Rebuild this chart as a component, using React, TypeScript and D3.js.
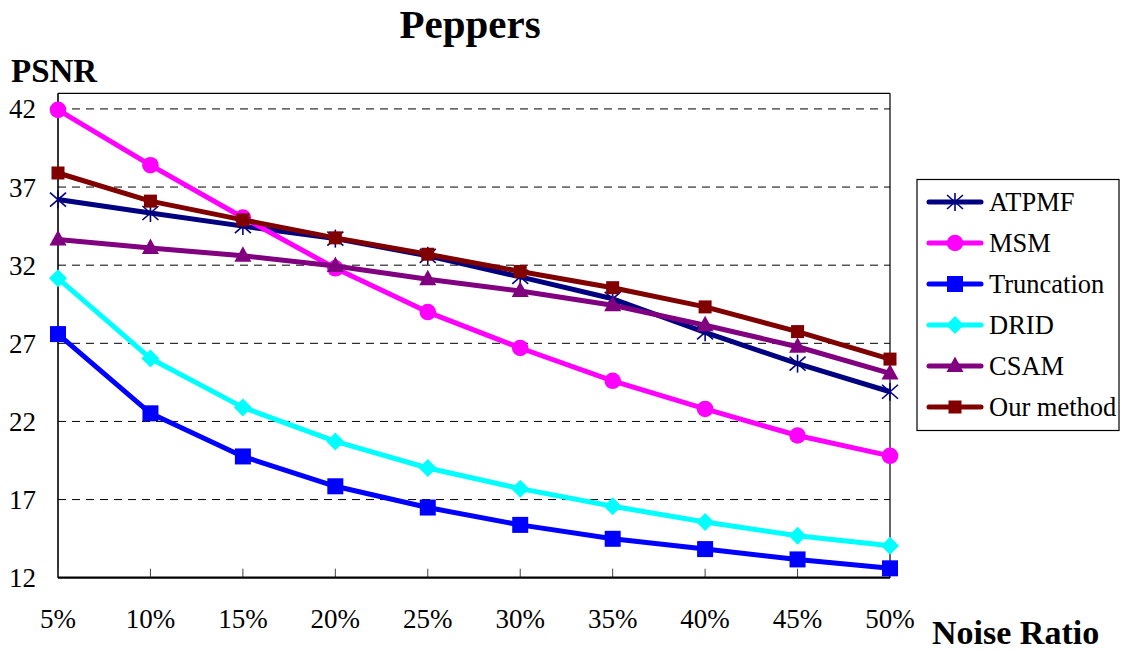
import React from "react";
import * as d3 from "d3";

const categories = ["5%", "10%", "15%", "20%", "25%", "30%", "35%", "40%", "45%", "50%"];
const yTicks = [12, 17, 22, 27, 32, 37, 42];

const atpmf = [36.2, 35.34, 34.5, 33.7, 32.6, 31.25, 29.85, 27.7, 25.7, 23.9];
const msm = [41.94, 38.4, 35.05, 31.8, 29.0, 26.7, 24.6, 22.8, 21.1, 19.8];
const truncation = [27.59, 22.52, 19.76, 17.85, 16.49, 15.38, 14.49, 13.83, 13.17, 12.6];
const drid = [31.16, 26.03, 22.9, 20.72, 19.02, 17.7, 16.57, 15.57, 14.68, 14.04];
const csam = [33.65, 33.1, 32.6, 31.95, 31.1, 30.35, 29.44, 28.16, 26.78, 25.07];
const ourMethod = [37.9, 36.1, 34.9, 33.75, 32.7, 31.6, 30.56, 29.33, 27.75, 25.99];

const series = [
  { name: "ATPMF", values: atpmf, color: "#000080", marker: "star" },
  { name: "MSM", values: msm, color: "#ff00ff", marker: "circle" },
  { name: "Truncation", values: truncation, color: "#0000ff", marker: "bigSquare" },
  { name: "DRID", values: drid, color: "#00ffff", marker: "diamond" },
  { name: "CSAM", values: csam, color: "#800080", marker: "triangle" },
  { name: "Our method", values: ourMethod, color: "#800000", marker: "square" },
];

const textStyle = { fontFamily: "'Liberation Serif', 'Times New Roman', Times, serif" };

const Marker = ({ type, x, y, color }: { type: string; x: number; y: number; color: string }) => {
  if (type === "circle") return <circle cx={x} cy={y} r={8.3} fill={color} />;
  if (type === "bigSquare") return <rect x={x - 8} y={y - 8} width={16} height={16} fill={color} />;
  if (type === "square") return <rect x={x - 6.5} y={y - 6.5} width={13} height={13} fill={color} />;
  if (type === "diamond")
    return <path d={`M${x},${y - 9}L${x + 9},${y}L${x},${y + 9}L${x - 9},${y}Z`} fill={color} />;
  if (type === "triangle")
    return <path d={`M${x},${y - 9.5}L${x + 8.5},${y + 6}L${x - 8.5},${y + 6}Z`} fill={color} />;
  // asterisk
  return (
    <g stroke={color} strokeWidth={1.6}>
      <line x1={x} y1={y - 9} x2={x} y2={y + 9} />
      <line x1={x - 8} y1={y - 7} x2={x + 8} y2={y + 7} />
      <line x1={x - 8} y1={y + 7} x2={x + 8} y2={y - 7} />
    </g>
  );
};

export default function App() {
  const width = 1126;
  const height = 653;
  const margin = { left: 58, right: 890, top: 93.3, bottom: 577.7 };

  const x = d3
    .scalePoint<string>()
    .domain(categories)
    .range([margin.left, margin.right]);
  const y = d3.scaleLinear().domain([12, 43]).range([margin.bottom, margin.top]);

  const line = d3
    .line<number>()
    .x((_, i) => x(categories[i]) as number)
    .y((d) => y(d));

  return (
    <svg
      width={width}
      height={height}
      style={{ position: "absolute", left: 0, top: 0, background: "#fff" }}
    >
      <rect width={width} height={height} fill="#fff" />
      <text x={470} y={38} textAnchor="middle" fontSize={41} fontWeight="bold" style={textStyle}>
        Peppers
      </text>
      <text x={11} y={82} fontSize={33} fontWeight="bold" style={textStyle}>
        PSNR
      </text>
      <text x={932} y={644} fontSize={34} fontWeight="bold" style={textStyle}>
        Noise Ratio
      </text>

      {/* grid */}
      {yTicks
        .filter((t) => t > 12)
        .map((t) => (
          <line
            key={t}
            x1={margin.left}
            x2={margin.right}
            y1={y(t)}
            y2={y(t)}
            stroke="#000"
            strokeWidth={1}
            strokeDasharray="8,6"
          />
        ))}

      {/* frame */}
      <line x1={margin.left} x2={margin.right} y1={margin.top} y2={margin.top} stroke="#000" strokeWidth={1.2} />
      <line x1={margin.right} x2={margin.right} y1={margin.top} y2={margin.bottom} stroke="#000" strokeWidth={1.2} />
      <line x1={margin.left} x2={margin.left} y1={margin.top} y2={margin.bottom} stroke="#000" strokeWidth={1.6} />

      {/* x ticks */}
      {categories.map((c) => (
        <line
          key={c}
          x1={x(c)}
          x2={x(c)}
          y1={margin.bottom}
          y2={margin.bottom - 9}
          stroke="#444"
          strokeWidth={1}
        />
      ))}
      <line x1={margin.left} x2={margin.right} y1={margin.bottom} y2={margin.bottom} stroke="#000" strokeWidth={2.2} />

      {/* tick labels */}
      {yTicks.map((t) => (
        <text key={t} x={36} y={y(t)} dy="0.35em" textAnchor="end" fontSize={27} style={textStyle}>
          {t}
        </text>
      ))}
      {categories.map((c) => (
        <text key={c} x={x(c)} y={628} textAnchor="middle" fontSize={27} style={textStyle}>
          {c}
        </text>
      ))}

      {/* series */}
      {series.map((s) => (
        <g key={s.name}>
          <path d={line(s.values) || ""} fill="none" stroke={s.color} strokeWidth={5} strokeLinejoin="round" />
          {s.values.map((v, i) => (
            <Marker key={i} type={s.marker} x={x(categories[i]) as number} y={y(v)} color={s.color} />
          ))}
        </g>
      ))}

      {/* legend */}
      <rect x={917} y={179.5} width={202} height={251} fill="#fff" stroke="#000" strokeWidth={1.2} />
      {series.map((s, i) => {
        const ly = 202 + i * 41;
        return (
          <g key={s.name}>
            <line x1={929} x2={981} y1={ly} y2={ly} stroke={s.color} strokeWidth={5} strokeLinecap="round" />
            <Marker type={s.marker} x={955} y={ly} color={s.color} />
            <text x={989} y={ly} dy="0.33em" fontSize={26.5} style={textStyle}>
              {s.name}
            </text>
          </g>
        );
      })}
    </svg>
  );
}
